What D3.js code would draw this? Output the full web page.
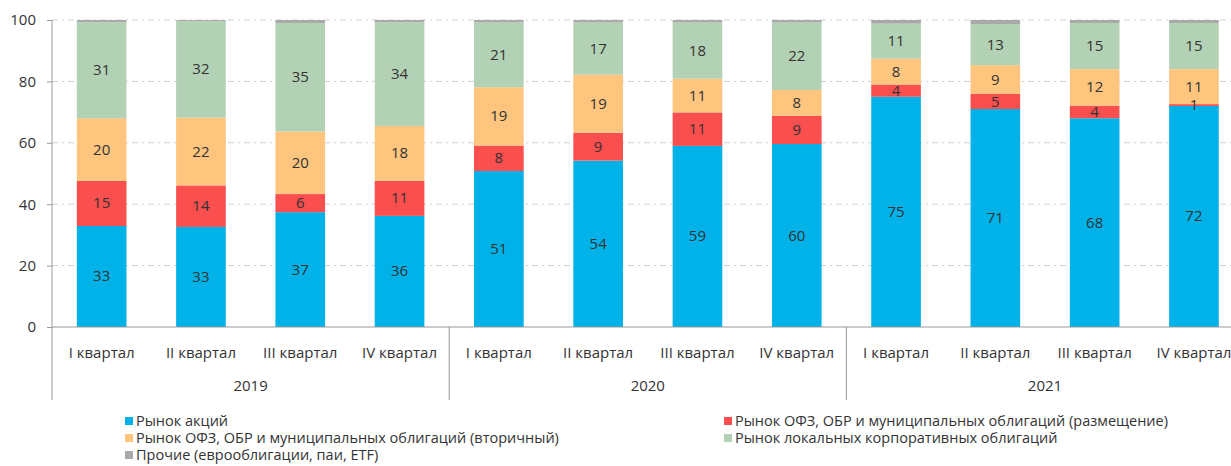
<!DOCTYPE html>
<html>
<head>
<meta charset="utf-8">
<script src="https://cdn.jsdelivr.net/npm/d3@7/dist/d3.min.js"></script>
<style>
  body { margin: 0; background: #fff; }
  text { font-family: "Open Sans", "Noto Sans", sans-serif; fill: #333; }
</style>
</head>
<body>
<div id="wrapper"></div>
<script>
const quarters = ["I квартал", "II квартал", "III квартал", "IV квартал"]
const years = ["2019", "2020", "2021"]

// shares, %
const stocks   = [32.9, 32.6, 37.4, 36.2, 50.8, 54.2, 59.0, 59.6, 75.0, 71.0, 68.0, 72.0]
const ofzPlace = [14.7, 13.5, 5.9, 11.4, 8.3, 9.1, 10.9, 9.2, 4.0, 4.9, 4.1, 0.6]
const ofzSec   = [20.4, 22.1, 20.4, 17.9, 19.0, 18.9, 11.0, 8.4, 8.4, 9.4, 11.9, 11.4]
const corp     = [31.3, 31.5, 35.3, 33.8, 21.1, 17.0, 18.3, 22.0, 11.4, 13.4, 15.0, 15.0]
const others   = [0.7, 0.3, 1.0, 0.7, 0.8, 0.8, 0.8, 0.8, 1.2, 1.3, 1.0, 1.0]

const seriesNames = [
    "Рынок акций",
    "Рынок ОФЗ, ОБР и муниципальных облигаций (размещение)",
    "Рынок ОФЗ, ОБР и муниципальных облигаций (вторичный)",
    "Рынок локальных корпоративных облигаций",
    "Прочие (еврооблигации, паи, ETF)"
]
const seriesKeys = ["stocks", "ofzPlace", "ofzSec", "corp", "others"]
const colors = ["#00b2e8", "#f94f4f", "#fdc57e", "#b3d1b4", "#a9a9a9"]

const yTicks = [0, 20, 40, 60, 80, 100]

const table = stocks.map((d, i) => ({
    idx: i,
    quarter: quarters[i % 4],
    year: years[Math.floor(i / 4)],
    stocks: stocks[i],
    ofzPlace: ofzPlace[i],
    ofzSec: ofzSec[i],
    corp: corp[i],
    others: others[i]
}))

const dimensions = {
    width: 1231,
    height: 466,
    margins: { top: 20, left: 52 }
}
dimensions.plotBottom = 327
dimensions.plotRight = 52 + 12 * 99.3

const wrapper = d3.select("#wrapper")
    .append("svg")
        .attr("width", dimensions.width)
        .attr("height", dimensions.height)

const xScale = d3.scaleBand()
    .domain(table.map(d => d.idx))
    .range([dimensions.margins.left, dimensions.plotRight])
    .paddingInner(0.5)
    .paddingOuter(0.25)

const yScale = d3.scaleLinear()
    .domain([0, 100])
    .range([dimensions.plotBottom, dimensions.margins.top])

// grid
wrapper.append("g")
    .selectAll("line")
    .data(yTicks.filter(t => t > 0))
    .join("line")
        .attr("x1", dimensions.margins.left)
        .attr("x2", dimensions.width)
        .attr("y1", d => yScale(d))
        .attr("y2", d => yScale(d))
        .attr("stroke", "#cfcfcf")
        .attr("stroke-width", 1)
        .attr("stroke-dasharray", "6,4,2,4")

const stack = d3.stack().keys(seriesKeys)
const stacked = stack(table)

const layers = wrapper.append("g")
    .selectAll("g")
    .data(stacked)
    .join("g")
        .attr("fill", (d, i) => colors[i])

layers.selectAll("rect")
    .data(d => d)
    .join("rect")
        .attr("x", d => xScale(d.data.idx))
        .attr("width", xScale.bandwidth())
        .attr("y", d => yScale(d[1]))
        .attr("height", d => yScale(d[0]) - yScale(d[1]))

// value labels
const labelLayers = wrapper.append("g")
    .selectAll("g")
    .data(stacked.slice(0, 4))
    .join("g")

labelLayers.selectAll("text")
    .data(d => d)
    .join("text")
        .attr("x", d => xScale(d.data.idx) + xScale.bandwidth() / 2)
        .attr("y", d => (yScale(d[0]) + yScale(d[1])) / 2 + 5)
        .attr("text-anchor", "middle")
        .style("font-size", "15px")
        .text(d => Math.round(d[1] - d[0]))

// y axis
const yAxisGenerator = d3.axisLeft(yScale)
    .tickValues(yTicks)
    .tickSize(5)
    .tickPadding(11)
const yAxis = wrapper.append("g")
    .attr("transform", `translate(${dimensions.margins.left},0)`)
    .call(yAxisGenerator)
yAxis.select(".domain").remove()
yAxis.selectAll(".tick line").attr("stroke", "#999")
yAxis.selectAll(".tick text")
    .style("font-size", "15px")
    .style("fill", "#333")

wrapper.append("line")
    .attr("x1", dimensions.margins.left)
    .attr("x2", dimensions.margins.left)
    .attr("y1", dimensions.margins.top)
    .attr("y2", 400)
    .attr("stroke", "#999")

// x axis line
wrapper.append("line")
    .attr("x1", dimensions.margins.left)
    .attr("x2", dimensions.width)
    .attr("y1", dimensions.plotBottom)
    .attr("y2", dimensions.plotBottom)
    .attr("stroke", "#999")

// quarter labels
wrapper.append("g")
    .selectAll("text")
    .data(table)
    .join("text")
        .attr("x", d => xScale(d.idx) + xScale.bandwidth() / 2)
        .attr("y", 358)
        .attr("text-anchor", "middle")
        .style("font-size", "15px")
        .text(d => d.quarter)

// year labels + separators
const step = xScale.step()
wrapper.append("g")
    .selectAll("text")
    .data(years)
    .join("text")
        .attr("x", (d, i) => dimensions.margins.left + step * (i * 4 + 2))
        .attr("y", 391)
        .attr("text-anchor", "middle")
        .style("font-size", "15px")
        .text(d => d)

wrapper.append("g")
    .selectAll("line")
    .data(years)
    .join("line")
        .attr("x1", (d, i) => dimensions.margins.left + step * (i + 1) * 4)
        .attr("x2", (d, i) => dimensions.margins.left + step * (i + 1) * 4)
        .attr("y1", dimensions.plotBottom)
        .attr("y2", 400)
        .attr("stroke", "#999")

// legend
const legendPos = [
    [125, 421], [724, 421],
    [125, 438], [724, 438],
    [125, 455]
]
const legendOrder = [0, 1, 2, 3, 4]
const legend = wrapper.append("g")
    .selectAll("g")
    .data(legendOrder)
    .join("g")
        .attr("transform", (d, i) => `translate(${legendPos[i][0]},${legendPos[i][1]})`)
legend.append("rect")
    .attr("x", 0)
    .attr("y", -4)
    .attr("width", 8)
    .attr("height", 8)
    .attr("fill", d => colors[d])
legend.append("text")
    .attr("x", 11)
    .attr("y", 5)
    .style("font-size", "14.5px")
    .text(d => seriesNames[d])
</script>
</body>
</html>
